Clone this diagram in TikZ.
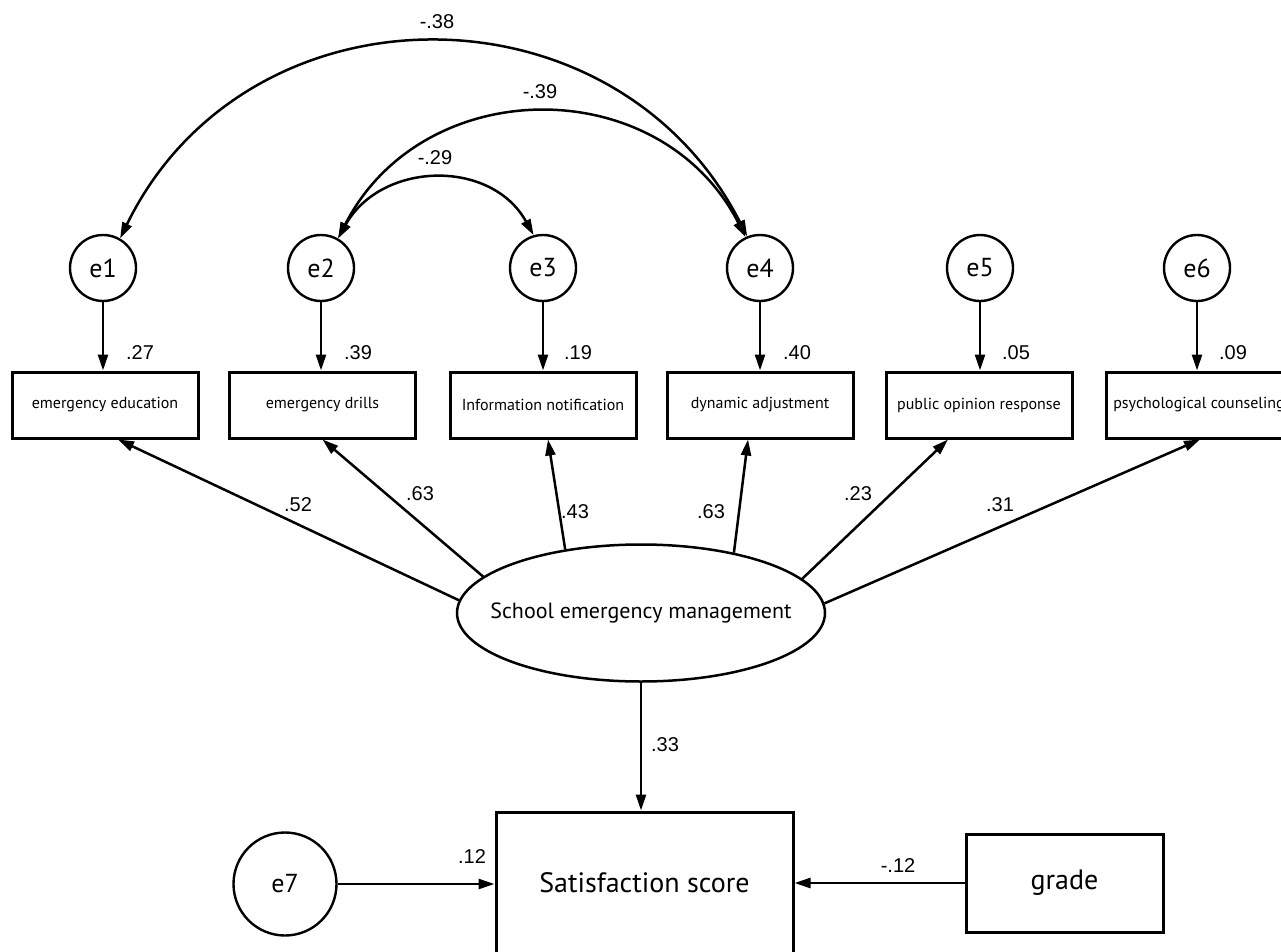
\documentclass[tikz,border=0pt]{standalone}
\usepackage{fontspec}
\setmainfont{PT Sans}
\newfontfamily\numfont{Liberation Sans}
\usetikzlibrary{arrows.meta,shapes.geometric,calc}
\begin{document}
\begin{tikzpicture}[x=1pt,y=-1pt,
  obs/.style={draw,line width=3pt,rectangle,minimum width=186pt,minimum height=66pt,inner sep=0pt,font=\fontsize{16}{19}\selectfont},
  err/.style={draw,line width=2.4pt,circle,minimum size=66pt,inner sep=0pt,font=\fontsize{26}{30}\selectfont},
  arr/.style={line width=2.5pt,-{Triangle[length=16pt,width=10pt]}},
  dbl/.style={line width=2.5pt,{Triangle[length=16pt,width=10pt]}-{Triangle[length=16pt,width=10pt]}},
  num/.style={font=\numfont\fontsize{20}{23}\selectfont,inner sep=0pt}
]
\useasboundingbox (0,0) rectangle (1281,952);
\clip (0,0) rectangle (1281,952);

% error terms
\node[err] (e1) at (103,268) {e1};
\node[err] (e2) at (321,268) {e2};
\node[err] (e3) at (543,268) {e3};
\node[err] (e4) at (760,268) {e4};
\node[err] (e5) at (980,268) {e5};
\node[err] (e6) at (1197,268) {e6};

% observed variables
\node[obs] (b1) at (105,405) {emergency education};
\node[obs] (b2) at (322.5,405) {emergency drills};
\node[obs] (b3) at (543,405) {Information notification};
\node[obs] (b4) at (760,405) {dynamic adjustment};
\node[obs] (b5) at (979,405) {public opinion response};
\node[obs] (b6) at (1199,405) {psychological counseling};

% latent
\node[draw,ellipse,line width=2.5pt,minimum width=368pt,minimum height=137pt,inner sep=0pt] (sem) at (641,613) {};
\node[font=\fontsize{22}{26}\selectfont,inner sep=0pt] (semtext) at (sem.center) {School emergency management};

% bottom
\node[draw,line width=3pt,minimum width=297pt,minimum height=142pt,inner sep=0pt,font=\fontsize{28}{32}\selectfont] (sat) at (644.5,883) {Satisfaction score};
\node[draw,line width=3pt,minimum width=197pt,minimum height=98pt,inner sep=0pt,font=\fontsize{28}{32}\selectfont] (grade) at (1064.5,883) {grade};
\node[err,minimum size=103pt] (e7) at (285,884) {e7};

% error arrows
\foreach \e/\b in {e1/b1,e2/b2,e3/b3,e4/b4,e5/b5,e6/b6}
  \draw[arr] (\e.south) -- (\e.south |- \b.north);

% loadings
\draw[arr] (sem.176) -- ([xshift=13pt]b1.south);
\draw[arr] (sem.167) -- (b2.south);
\draw[arr] (sem.140) -- ([xshift=5pt]b3.south);
\draw[arr] (sem.33) -- ([xshift=-12pt]b4.south);
\draw[arr] (sem.12) -- ([xshift=-31pt]b5.south);
\draw[arr] (sem.3) -- ([xshift=1pt]b6.south);

% structural paths
\draw[arr] (sem.south) -- (sem.south |- sat.north);
\draw[arr] (e7.east) -- (e7.east -| sat.west);
\draw[arr] (grade.west) -- (grade.west -| sat.east);

% covariances
\draw[dbl] (e1.60) to[out=64,in=117,looseness=1.18] (e4.112);
\draw[dbl] (e2.60) to[out=63,in=117,looseness=1.17] (e4.115);
\draw[dbl] (e2.60) to[out=61,in=119,looseness=1.15] (e3.106);

% numbers
\node[num] (n1) at (140,353) {.27};
\node[num] (n2) at (358,353) {.39};
\node[num] (n3) at (578,353) {.19};
\node[num] (n4) at (797,353) {.40};
\node[num] (n5) at (1016,353) {.05};
\node[num] (n6) at (1233,353) {.09};
\node[num] (l1) at (298,505) {.52};
\node[num] (l2) at (420,494) {.63};
\node[num] (l3) at (575,512) {.43};
\node[num] (l4) at (711,512) {.63};
\node[num] (l5) at (858,494) {.23};
\node[num] (l6) at (1000,505) {.31};
\node[num] (c1) at (437,22) {-.38};
\node[num] (c2) at (540,92) {-.39};
\node[num] (c3) at (435,158) {-.29};
\node[num] (p1) at (665,745) {.33};
\node[num] (p2) at (472,857) {.12};
\node[num] (p3) at (898,866) {-.12};
\end{tikzpicture}
\end{document}
